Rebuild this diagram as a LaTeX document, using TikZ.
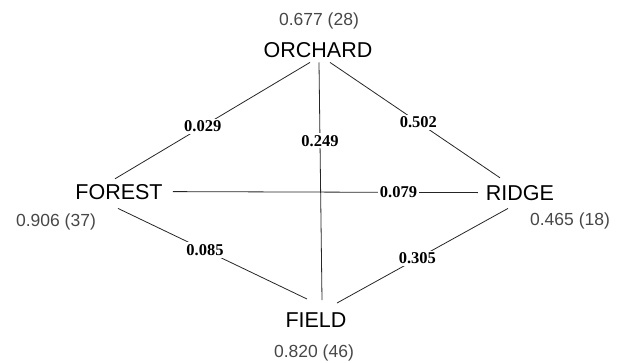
\documentclass[tikz,border=0pt]{standalone}
\usepackage{fontspec}
\setmainfont{Liberation Sans}
\newfontfamily\edgefont{Liberation Serif}
\tikzset{
  place/.style={anchor=base, inner sep=0pt, font=\fontsize{21.5}{23}\selectfont},
  value/.style={anchor=base, inner sep=0pt, text=black!72, font=\fontsize{17.5}{19}\selectfont},
  link/.style={draw=black!85, line width=0.8pt},
  weight/.style={fill=white, inner sep=2pt, font=\edgefont\bfseries\fontsize{16.5}{18}\selectfont}
}
\begin{document}
\begin{tikzpicture}[x=1pt,y=-1pt]
\useasboundingbox (0,0) rectangle (624,362);
\node[place] (orchard) at (318,57) {ORCHARD};
\node[place] (forest) at (119,199) {FOREST};
\node[place] (ridge) at (520,200) {RIDGE};
\node[place] (field) at (316,327) {FIELD};
\node[value] (vorchard) at (319,25) {0.677 (28)};
\node[value] (vforest) at (56,226) {0.906 (37)};
\node[value] (vridge) at (570,225) {0.465 (18)};
\node[value] (vfield) at (314,357) {0.820 (46)};
\draw[link] ([xshift=-8pt,yshift=-5pt]orchard.south) -- node[weight,pos=0.55] (w1) {0.029} ([xshift=-4pt,yshift=5pt]forest.north);
\draw[link] ([xshift=12pt,yshift=-5pt]orchard.south) -- node[weight,pos=0.52] (w2) {0.502} ([xshift=-20pt,yshift=7pt]ridge.north);
\draw[link] ([xshift=1pt,yshift=-5pt]orchard.south) -- node[weight,pos=0.33] (w3) {0.249} ([xshift=6pt,yshift=12pt]field.north);
\draw[link] ([xshift=10pt]forest.east) -- node[weight,pos=0.74] (w4) {0.079} ([xshift=-8pt]ridge.west);
\draw[link] ([xshift=-1pt,yshift=-9pt]forest.south) -- node[weight,pos=0.46] (w5) {0.085} ([xshift=-9pt,yshift=13pt]field.north);
\draw[link] ([xshift=-12pt,yshift=-8pt]ridge.south) -- node[weight,pos=0.53] (w6) {0.305} ([xshift=21pt,yshift=9pt]field.north);
\end{tikzpicture}
\end{document}
